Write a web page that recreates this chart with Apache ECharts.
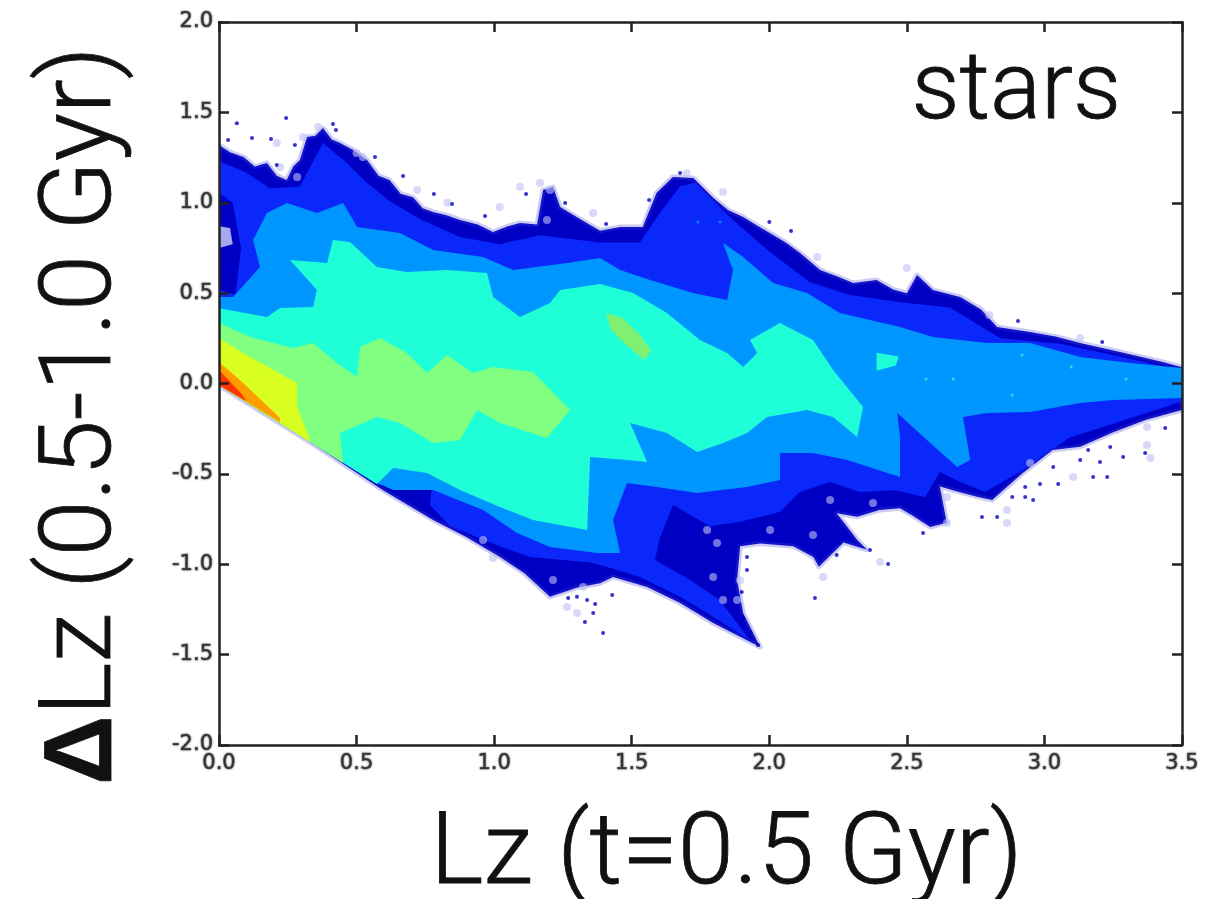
<!DOCTYPE html>
<html><head><meta charset="utf-8">
<style>html,body{margin:0;padding:0;background:#fff}#c{width:1205px;height:899px}</style>
<script src="https://cdn.jsdelivr.net/npm/echarts@6/dist/echarts.min.js"></script>
</head><body><div id="c"></div>
<script>
// Density-level outlines: [Lz, dLz]
const level1 = [[0,1.32],[.04,1.28],[.089,1.253],[.13,1.2],[.174,1.22],[.21,1.15],[.246,1.126],[.27,1.2],[.294,1.236],[.32,1.364],[.35,1.37],[.378,1.413],[.41,1.35],[.44,1.33],[.49,1.29],[.538,1.237],[.58,1.15],[.62,1.126],[.66,1.05],[.705,1.03],[.74,.97],[.778,.949],[.83,.93],[.876,.905],[.94,.88],[.996,.838],[1.05,.87],[1.094,.888],[1.156,.88],[1.178,1.07],[1.214,1.087],[1.24,.976],[1.30,.921],[1.385,.845],[1.458,.866],[1.54,.866],[1.59,1.054],[1.65,1.143],[1.724,1.137],[1.797,1.026],[1.85,.96],[1.905,.921],[1.96,.87],[2.014,.822],[2.06,.78],[2.112,.722],[2.185,.628],[2.25,.59],[2.305,.556],[2.39,.573],[2.45,.52],[2.50,.50],[2.537,.60],[2.595,.517],[2.694,.479],[2.77,.41],[2.828,.313],[2.948,.285],[3.04,.26],[3.13,.224],[3.275,.174],[3.43,.119],[3.5,.09],[3.5,-.147],[3.37,-.2],[3.25,-.27],[3.13,-.35],[3.03,-.368],[2.92,-.497],[2.81,-.645],[2.755,-.626],[2.69,-.6],[2.62,-.57],[2.645,-.77],[2.585,-.794],[2.52,-.73],[2.475,-.69],[2.40,-.70],[2.32,-.737],[2.245,-.718],[2.32,-.866],[2.355,-.92],[2.27,-.88],[2.18,-1.014],[2.16,-.96],[2.087,-.90],[1.967,-.885],[1.894,-.90],[1.883,-1.087],[1.905,-1.27],[1.967,-1.458],[1.796,-1.325],[1.676,-1.215],[1.556,-1.126],[1.432,-1.07],[1.385,-1.105],[1.30,-1.13],[1.203,-1.18],[1.11,-1.05],[1.021,-.96],[.9,-.85],[.778,-.755],[.596,-.59],[.331,-.324],[0,-.01]];
const level2 = [[0,1.23],[.095,1.17],[.185,1.08],[.294,1.09],[.378,1.33],[.458,1.23],[.53,1.12],[.62,1.01],[.73,.91],[.876,.81],[1.02,.77],[1.167,.82],[1.385,.78],[1.53,.78],[1.605,.95],[1.676,1.09],[1.73,1.11],[1.857,.92],[2.0,.73],[2.148,.56],[2.294,.49],[2.475,.45],[2.657,.42],[2.84,.25],[3.057,.22],[3.275,.15],[3.5,.07],[3.5,-.1],[3.275,-.21],[3.09,-.3],[2.91,-.49],[2.785,-.6],[2.694,-.545],[2.62,-.49],[2.566,-.63],[2.457,-.59],[2.33,-.6],[2.22,-.545],[2.11,-.6],[2.04,-.71],[1.894,-.765],[1.785,-.79],[1.65,-.672],[1.60,-.866],[1.585,-.977],[1.712,-1.087],[1.82,-1.198],[1.93,-1.42],[1.796,-1.29],[1.676,-1.18],[1.53,-1.07],[1.42,-1.02],[1.349,-.99],[1.13,-.96],[1.02,-.9],[.84,-.79],[.767,-.672],[.778,-.48],[0,.46]];
const level3 = [[0,.478],[.051,.478],[.149,.645],[.124,.794],[.174,.943],[.247,.999],[.356,.943],[.451,.999],[.502,.866],[.658,.833],[.778,.739],[.96,.70],[1.069,.628],[1.265,.667],[1.385,.694],[1.458,.628],[1.567,.573],[1.723,.501],[1.847,.462],[1.868,.628],[1.832,.777],[1.905,.70],[2.014,.556],[2.137,.501],[2.257,.39],[2.475,.313],[2.595,.257],[2.792,.224],[2.948,.224],[3.13,.147],[3.312,.113],[3.5,.086],[3.5,-.08],[3.25,-.091],[3.13,-.108],[2.948,-.158],[2.792,-.163],[2.704,-.185],[2.73,-.423],[2.683,-.462],[2.585,-.329],[2.465,-.163],[2.475,-.296],[2.475,-.517],[2.283,-.423],[2.159,-.385],[2.039,-.385],[2.039,-.534],[1.919,-.573],[1.738,-.606],[1.592,-.573],[1.483,-.551],[1.432,-.755],[1.458,-.938],[1.374,-.938],[1.203,-.905],[1.083,-.827],[.96,-.70],[.778,-.589],[.633,-.589],[.574,-.55],[.331,-.324],[0,-.01]];
const level4 = [[0,.417],[.174,.368],[.222,.418],[.342,.423],[.356,.517],[.258,.683],[.393,.667],[.414,.794],[.476,.783],[.574,.645],[.683,.617],[.829,.628],[.974,.611],[.996,.479],[1.094,.368],[1.203,.445],[1.24,.517],[1.385,.55],[1.505,.501],[1.628,.39],[1.748,.241],[1.847,.169],[1.905,.091],[1.956,.169],[1.93,.241],[2.039,.335],[2.159,.241],[2.232,.075],[2.341,-.13],[2.319,-.296],[2.232,-.185],[2.137,-.147],[1.992,-.185],[1.919,-.274],[1.832,-.329],[1.738,-.379],[1.628,-.274],[1.494,-.219],[1.556,-.434],[1.483,-.423],[1.349,-.407],[1.338,-.81],[1.141,-.755],[1.021,-.683],[.876,-.589],[.756,-.495],[.633,-.467],[.574,-.556],[.331,-.324],[0,-.01]];
const level5 = [[0,.335],[.113,.257],[.269,.196],[.342,.224],[.429,.113],[.502,.036],[.513,.202],[.585,.252],[.683,.169],[.756,.058],[.829,.158],[.923,.058],[.996,.091],[1.141,.064],[1.24,-.091],[1.276,-.147],[1.192,-.302],[1.021,-.219],[.938,-.147],[.876,-.313],[.778,-.329],[.658,-.219],[.574,-.185],[.44,-.274],[.451,-.44],[.331,-.324],[0,-.01]];
const level6 = [[0,.252],[.087,.169],[.284,.003],[.284,-.13],[.331,-.313],[.331,-.324],[0,-.01]];
const level7 = [[0,.119],[.076,.019],[.222,-.191],[.222,-.215],[0,-.01]];
const level8 = [[0,.075],[.076,-.047],[.1,-.098],[0,-.01]];
const greenPatch = [[1.407,.389],[1.462,.367],[1.523,.279],[1.571,.185],[1.545,.13],[1.472,.224],[1.425,.296]];
const cyanPatch = [[2.39,.17],[2.47,.15],[2.46,.1],[2.39,.07]];
const navyPatch = [[0,1.054],[.05,1.0],[.08,.75],[.07,.62],[.06,.49],[0,.52]];
const paleHole = [[0,.87],[.04,.86],[.05,.77],[0,.75]];

const navySpecks = [[.065,1.44],[.12,1.358],[.033,1.347],[.189,1.353],[.244,1.469],[.414,1.436],[.425,1.403],[.567,1.253],[.669,1.148],[.781,1.048],[.847,.993],[.967,.927],[1.116,1.048],[1.258,.999],[.21,1.209],[.276,1.32],[2.079,.844],[2.0,.894],[1.563,1.015],[1.407,.882],[1.676,1.165],[2.904,.346],[3.21,.23],[3.439,-.246],[3.366,-.385],[3.286,-.407],[3.177,-.517],[3.228,-.517],[3.05,-.556],[2.984,-.556],[2.93,-.573],[2.959,-.645],[2.93,-.628],[2.828,-.739],[2.773,-.739],[2.883,-.628],[3.13,-.423],[3.202,-.434],[3.239,-.351],[3.159,-.368],[3.032,-.462],[2.166,-1.187],[2.432,-.999],[2.366,-.921],[2.559,-.827],[1.919,-1.032],[1.919,-.96],[1.90,-1.153],[1.905,-1.297],[1.93,-1.375],[1.959,-1.447],[2.245,-.949],[1.367,-1.22],[1.33,-1.32],[1.396,-1.38],[1.338,-1.198],[1.429,-1.17],[1.221,-1.142],[1.269,-1.187],[1.36,-1.27],[1.301,-1.18]];
const paleSpecks = [[1.774,-.81],[1.81,-.882],[1.796,-1.07],[1.832,-1.198],[2.003,-.81],[2.159,-.838],[2.221,-.645],[2.377,-.661],[2.646,-.628],[.96,-.866],[.996,-.966],[1.214,-1.087],[1.323,-1.126],[.222,1.198],[.284,1.143],[.523,1.253],[1.192,.905],[1.203,1.07],[2.948,-.44],[3.373,-.24],[.21,1.33],[.36,1.42],[.305,1.364],[.50,1.275],[.72,1.07],[.83,1.0],[1.02,.977],[1.094,1.087],[1.167,1.109],[1.36,.943],[1.70,1.165],[1.832,1.06],[2.174,.70],[2.50,.639],[2.80,.379],[3.13,.252],[3.373,-.34],[3.385,-.412],[3.104,-.517],[2.864,-.772],[2.864,-.70],[2.403,-.988],[2.196,-1.07],[1.894,-1.088],[1.883,-1.198],[2.646,-.772],[1.265,-1.236],[1.301,-1.27]];
const cyanSpecks = [[2.57,.025],[2.668,.025],[2.883,-.064],[2.919,.158],[3.097,.091],[3.297,.025]];
const azureSpecks = [[1.741,.894],[1.821,.894]];

const xTicks = ['0.0','0.5','1.0','1.5','2.0','2.5','3.0','3.5'];
const yTicks = ['-2.0','-1.5','-1.0','-0.5','0.0','0.5','1.0','1.5','2.0'];

function area(name, outline, fill, extra){
  return {
    name, type:'custom', coordinateSystem:'cartesian2d', silent:true, z:2, clip:true,
    data: outline,
    renderItem(params, api){
      if(params.dataIndex!==0) return null;
      return {type:'polygon', shape:{points:outline.map(p=>api.coord(p))},
        style:Object.assign({fill}, extra||{})};
    }
  };
}
function specks(name, data, color, size){
  return {name, type:'scatter', data, symbolSize:size, silent:true, z:3, itemStyle:{color}};
}
const labelStyle = {fontFamily:'DejaVu Sans', fontSize:21, color:'#333', textBorderColor:'#666', textBorderWidth:.6, textShadowColor:'#777', textShadowBlur:2};
const bigText = {fontFamily:'Roboto', fontWeight:300, color:'#111', textBorderColor:'#111', textBorderWidth:.8};
const hAxis = (extra)=>Object.assign({type:'value', min:0, max:3.5, interval:.5, z:10,
  axisLine:{onZero:false, lineStyle:{color:'#222', width:2.5}},
  axisTick:{inside:true, length:10, lineStyle:{color:'#222', width:2.5}},
  splitLine:{show:false}}, extra);
const vAxis = (extra)=>Object.assign({type:'value', min:-2, max:2, interval:.5, z:10,
  axisLine:{onZero:false, lineStyle:{color:'#222', width:2.5}},
  axisTick:{inside:true, length:10, lineStyle:{color:'#222', width:2.5}},
  splitLine:{show:false}}, extra);

const chart = echarts.init(document.getElementById('c'), null, {renderer:'canvas'});
chart.setOption({
  animation:false, backgroundColor:'#fff',
  title:{text:'stars', right:78, top:42, textStyle:{...bigText, fontSize:95}},
  grid:{left:219, top:22, width:963, height:723, outerBoundsMode:'none'},
  xAxis:[
    hAxis({position:'bottom',
      name:'Lz (t=0.5 Gyr)', nameLocation:'middle', nameGap:62,
      nameTextStyle:{...bigText, fontSize:101, padding:[0,0,0,52], verticalAlign:'top'},
      axisLabel:{...labelStyle, margin:8, formatter:(v)=>xTicks[Math.round(v*2)]}}),
    hAxis({position:'top', axisLabel:{show:false}})
  ],
  yAxis:[
    vAxis({position:'left',
      name:'{d|Δ}Lz (0.5-1.0 Gyr)', nameLocation:'middle', nameRotate:90, nameGap:84,
      nameTextStyle:{...bigText, fontSize:101, padding:[0,64,0,0],
        rich:{d:{fontFamily:'Liberation Sans', fontWeight:'bold', fontSize:96, color:'#111'}}},
      axisLabel:{...labelStyle, margin:6, formatter:(v)=>yTicks[Math.round((v+2)*2)]}}),
    vAxis({position:'right', axisLabel:{show:false}})
  ],
  series:[
    area('level 1', level1, '#0000c4', {stroke:'rgba(70,70,220,0.28)', lineWidth:5, lineJoin:'round'}),
    specks('pale specks', paleSpecks, 'rgba(190,190,245,0.75)', 8),
    area('level 2', level2, '#0a28fa'),
    area('navy patch', navyPatch, '#0000c4'),
    area('pale hole', paleHole, '#a8a8ee'),
    area('level 3', level3, '#0096ff'),
    area('level 4', level4, '#1effd8'),
    area('level 5', level5, '#80ff80'),
    area('level 6', level6, '#d8ff20'),
    area('level 7', level7, '#ff9c00'),
    area('level 8', level8, '#ff3600'),
    area('green patch', greenPatch, '#80f070'),
    area('cyan patch', cyanPatch, '#1effd8'),
    specks('navy specks', navySpecks, '#0000c4', 4),
    specks('cyan specks', cyanSpecks, '#1effd8', 3),
    specks('azure specks', azureSpecks, '#0096ff', 3)
  ]
});
</script></body></html>
